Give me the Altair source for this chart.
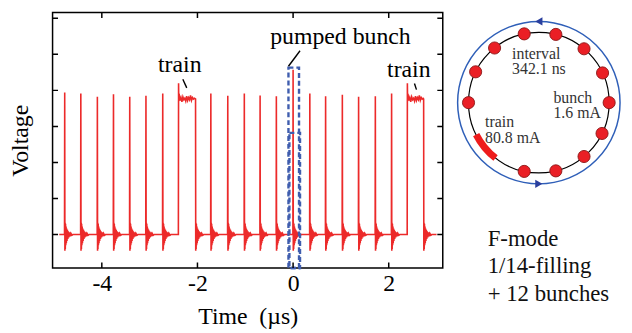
import math
import altair as alt
import pandas as pd

SERIF = "Liberation Serif"
RED = "#EC2A2A"
BLUE_BOX = "#3F5DAE"
BLUE_RING = "#2F5FB8"
BLUE_ARROW = "#2A3F9E"

# ---------------- main trace : axes ----------------
X_DOMAIN = [-5.03, 3.13]
Y_DOMAIN = [-0.93, 6.16]
X_TICKS = [-4, -2, 0, 2]
Y_TICKS = [0, 1, 2, 3, 4, 5, 6]

# single-bunch spikes (time in us, peak height)
BUNCH_T = [-4.776, -4.439, -4.093, -3.756, -3.416, -3.077, -2.726,
           -1.720, -1.366, -1.020, -0.690, -0.350, 0.000,
           0.350, 0.680, 1.030, 1.370, 1.720, 2.060]
BUNCH_V = [3.94, 3.91, 3.82, 3.89, 3.82, 3.85, 3.91,
           3.91, 3.85, 3.91, 3.86, 3.84, 4.57,
           3.91, 3.84, 3.88, 3.82, 3.84, 3.91]

# bunch trains (start / end time)
TRAIN_START = [-2.395, 2.390]
TRAIN_END = [-2.040, 2.730]
# plateau of a train, relative to its start
TRAIN_DT = [0.000, 0.004, 0.012, 0.030, 0.050, 0.070, 0.090, 0.110, 0.130,
            0.150, 0.170, 0.190, 0.210, 0.230, 0.250, 0.270, 0.290, 0.310, 0.330]
TRAIN_V = [4.20, 3.70, 3.90, 3.72, 3.80, 3.68, 3.82, 3.74, 3.78,
           3.70, 3.84, 3.72, 3.80, 3.74, 3.86, 3.72, 3.80, 3.76, 3.78]
TRAIN_LAST_V = 3.76

# ringing after each falling edge, relative to the edge
RING_DT = [0.004, 0.008, 0.012, 0.017, 0.022, 0.028, 0.034, 0.041, 0.048,
           0.056, 0.065, 0.075, 0.086, 0.100, 0.115, 0.130, 0.150, 0.170]
RING_V = [-0.45, 0.33, -0.40, 0.30, -0.30, 0.22, -0.24, 0.17, -0.18,
          0.13, -0.12, 0.09, -0.08, 0.06, -0.05, 0.03, -0.02, 0.00]

TRACE_START = -4.89
TRACE_END = 3.00

# pumped-bunch dashed boxes
BOX_X0 = [-0.097, -0.077]
BOX_X1 = [0.124, 0.145]
BOX_TOP = [4.63, 2.82]

# annotations
ANN_TEXT = ["pumped bunch", "train", "train"]
ANN_T = [0.99, -2.37, 2.42]
ANN_V = [5.29, 4.51, 4.37]
LEAD_T0 = [0.145, -2.306, 2.538]
LEAD_V0 = [5.10, 4.31, 4.19]
LEAD_T1 = [-0.097, -2.224, 2.580]
LEAD_V1 = [4.67, 4.07, 4.02]

# ---------------- ring diagram ----------------
DOT_ANGLES = [102, 76, 50, 25, 0, -26, -50, -76, -102, 129, 154, 180]  # degrees
TRAIN_ARC = [218, 243]  # degrees, clockwise from 12 o'clock
RING_R_PX = 71
OUTER_R_PX = 82
DIAG_X = [-1.2254, 1.169]
DIAG_Y = [-2.944, 1.2817]
RING_LABELS = ["interval", "342.1 ns", "bunch", "1.6 mA", "train", "80.8 mA"]
RING_LX = [-0.38, -0.38, 0.207, 0.207, -0.765, -0.765]
RING_LY = [0.697, 0.472, 0.070, -0.155, -0.282, -0.507]
MODE_LABELS = ["F-mode", "1/14-filling", "+ 12 bunches"]
MODE_LX = [-0.728, -0.728, -0.728]
MODE_LY = [-1.934, -2.33, -2.72]

# ---------------- build trace table ----------------
events = [("b", t, h) for t, h in zip(BUNCH_T, BUNCH_V)] + \
         [("t", s, e) for s, e in zip(TRAIN_START, TRAIN_END)]
events.sort(key=lambda e: e[1])
pts = [(TRACE_START, 0.0)]
for kind, a, b in events:
    if kind == "b":
        pts.append((a - 0.004, 0.0))
        pts.append((a, b))
        edge = a
    else:
        pts.append((a - 0.004, 0.0))
        for dt, v in zip(TRAIN_DT, TRAIN_V):
            if a + dt < b:
                pts.append((a + dt, v))
        pts.append((b, TRAIN_LAST_V))
        edge = b
    for dt, v in zip(RING_DT, RING_V):
        pts.append((edge + dt, v))
pts.append((TRACE_END, 0.0))
trace = pd.DataFrame({"t": [p[0] for p in pts], "v": [p[1] for p in pts],
                      "i": list(range(len(pts)))})

xs = alt.Scale(domain=X_DOMAIN, nice=False, zero=False)
ys = alt.Scale(domain=Y_DOMAIN, nice=False, zero=False)

x_axis = alt.Axis(values=X_TICKS, labelExpr="'' + datum.value", ticks=False, tickSize=0,
                  domain=False, grid=False, labelPadding=4, labelFontSize=24,
                  labelFont=SERIF, labelColor="black", titleFont=SERIF, titleFontSize=24,
                  titleFontWeight="normal", titleColor="black", titlePadding=9)
y_axis = alt.Axis(labels=False, ticks=False, domain=False, grid=False,
                  titleFont=SERIF, titleFontSize=24, titleFontWeight="normal",
                  titleColor="black", titlePadding=20)

line = alt.Chart(trace).mark_line(color=RED, strokeWidth=1.6).encode(
    x=alt.X("t:Q", scale=xs, axis=x_axis, title="Time\u00a0 (\u00b5s)"),
    y=alt.Y("v:Q", scale=ys, axis=y_axis, title="Voltage"),
    order="i:Q",
)

boxes_df = pd.DataFrame({"x0": BOX_X0, "x1": BOX_X1, "top": BOX_TOP,
                         "bot": [Y_DOMAIN[0]] * len(BOX_X0)})
boxes = alt.Chart(boxes_df).mark_rect(fillOpacity=0, stroke=BLUE_BOX, strokeWidth=2.4,
                                      strokeDash=[5, 3]).encode(
    x=alt.X("x0:Q", scale=xs), x2="x1:Q", y=alt.Y("bot:Q", scale=ys), y2="top:Q")

xt_df = pd.DataFrame({"t": X_TICKS * 2,
                      "v": [Y_DOMAIN[0]] * len(X_TICKS) + [Y_DOMAIN[1]] * len(X_TICKS)})
xticks = alt.Chart(xt_df).mark_tick(orient="vertical", size=11, thickness=1.5,
                                    color="black", clip=True, opacity=1).encode(
    x=alt.X("t:Q", scale=xs), y=alt.Y("v:Q", scale=ys))
yt_df = pd.DataFrame({"v": Y_TICKS * 2,
                      "t": [X_DOMAIN[0]] * len(Y_TICKS) + [X_DOMAIN[1]] * len(Y_TICKS)})
yticks = alt.Chart(yt_df).mark_tick(orient="horizontal", size=11, thickness=1.5,
                                    color="black", clip=True, opacity=1).encode(
    x=alt.X("t:Q", scale=xs), y=alt.Y("v:Q", scale=ys))

ann_df = pd.DataFrame({"t": ANN_T, "v": ANN_V, "label": ANN_TEXT})
ann = alt.Chart(ann_df).mark_text(font=SERIF, fontSize=24, color="black",
                                  align="center", baseline="alphabetic").encode(
    x=alt.X("t:Q", scale=xs), y=alt.Y("v:Q", scale=ys), text="label:N")
lead_df = pd.DataFrame({"t0": LEAD_T0, "v0": LEAD_V0, "t1": LEAD_T1, "v1": LEAD_V1})
leads = alt.Chart(lead_df).mark_rule(color="black", strokeWidth=1.4).encode(
    x=alt.X("t0:Q", scale=xs), y=alt.Y("v0:Q", scale=ys), x2="t1:Q", y2="v1:Q")

main = alt.layer(line, boxes, xticks, yticks, leads, ann).properties(
    width=394, height=258,
    view=alt.ViewBackground(stroke="black", strokeWidth=1.5))

# ---------------- ring diagram ----------------
dxs = alt.Scale(domain=DIAG_X, nice=False, zero=False)
dys = alt.Scale(domain=DIAG_Y, nice=False, zero=False)
center = pd.DataFrame({"x": [0.0], "y": [0.0]})

# Vega circle symbol: diameter = sqrt(size)
outer = alt.Chart(center).mark_point(shape="circle", size=(2 * OUTER_R_PX) ** 2,
                                     filled=False, stroke=BLUE_RING, strokeWidth=1.5,
                                     opacity=1).encode(
    x=alt.X("x:Q", scale=dxs, axis=None), y=alt.Y("y:Q", scale=dys, axis=None))
inner = alt.Chart(center).mark_point(shape="circle", size=(2 * RING_R_PX) ** 2,
                                     filled=False, stroke="black", strokeWidth=1.2,
                                     opacity=1).encode(
    x=alt.X("x:Q", scale=dxs, axis=None), y=alt.Y("y:Q", scale=dys, axis=None))
arc = alt.Chart(center).mark_arc(radius=RING_R_PX + 3.5, radius2=RING_R_PX - 3.5,
                                 theta=math.radians(TRAIN_ARC[0]),
                                 theta2=math.radians(TRAIN_ARC[1]),
                                 color="#EE1C1C").encode(
    x=alt.X("x:Q", scale=dxs, axis=None), y=alt.Y("y:Q", scale=dys, axis=None))

dots_df = pd.DataFrame({"x": [math.cos(math.radians(a)) for a in DOT_ANGLES],
                        "y": [math.sin(math.radians(a)) for a in DOT_ANGLES]})
dots = alt.Chart(dots_df).mark_point(shape="circle", size=150, filled=True, fill="#EA1F25",
                                     stroke="#8A1515", strokeWidth=0.9, opacity=1).encode(
    x=alt.X("x:Q", scale=dxs, axis=None), y=alt.Y("y:Q", scale=dys, axis=None))

arrow_df = pd.DataFrame({"x": [0.0, 0.0],
                         "y": [OUTER_R_PX / RING_R_PX, -OUTER_R_PX / RING_R_PX],
                         "shape": ["triangle-left", "triangle-right"]})
arrows = alt.Chart(arrow_df).mark_point(filled=True, size=70, color=BLUE_ARROW,
                                        opacity=1).encode(
    x=alt.X("x:Q", scale=dxs, axis=None), y=alt.Y("y:Q", scale=dys, axis=None),
    shape=alt.Shape("shape:N", scale=None))

rl_df = pd.DataFrame({"x": RING_LX, "y": RING_LY, "label": RING_LABELS})
ring_text = alt.Chart(rl_df).mark_text(font=SERIF, fontSize=16, color="#333333",
                                       align="left", baseline="middle").encode(
    x=alt.X("x:Q", scale=dxs, axis=None), y=alt.Y("y:Q", scale=dys, axis=None),
    text="label:N")
ml_df = pd.DataFrame({"x": MODE_LX, "y": MODE_LY, "label": MODE_LABELS})
mode_text = alt.Chart(ml_df).mark_text(font=SERIF, fontSize=23, color="#111111",
                                       align="left", baseline="middle").encode(
    x=alt.X("x:Q", scale=dxs, axis=None), y=alt.Y("y:Q", scale=dys, axis=None),
    text="label:N")

diagram = alt.layer(outer, inner, arc, dots, arrows, ring_text, mode_text).properties(
    width=170, height=300)

chart = alt.hconcat(main, diagram, spacing=8).properties(
    padding={"left": 0, "top": 2, "right": 0, "bottom": 0}
).configure_view(stroke="transparent")

chart.save("out.html", embed_options={"renderer": "svg", "actions": False})
